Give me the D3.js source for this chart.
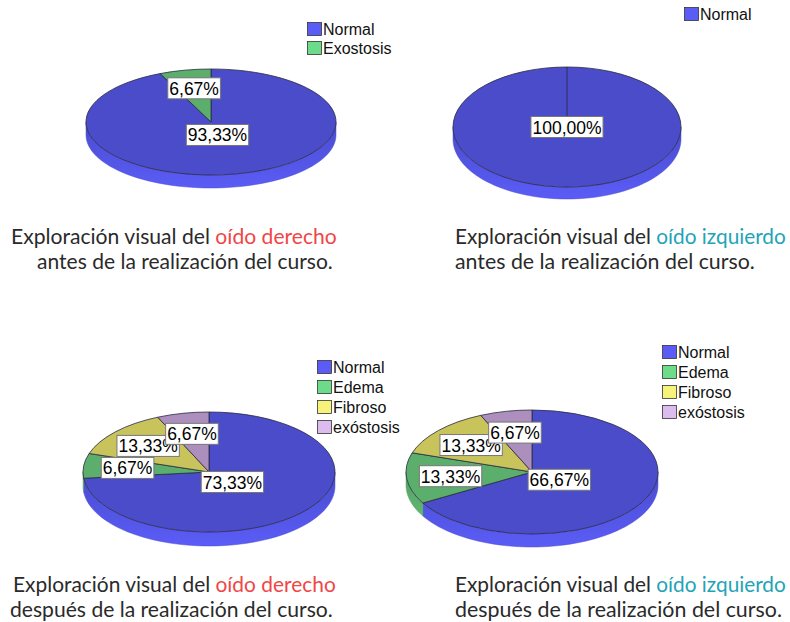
<!DOCTYPE html>
<html><head><meta charset="utf-8">
<script src="https://cdn.jsdelivr.net/npm/d3@7"></script>
<style>body{margin:0;background:#fff}</style>
</head><body><svg id="c" width="790" height="622"></svg>
<script>
// ---- data ----
const categoriesA = ["Normal", "Exostosis"];
const valuesA = [93.33, 6.67];
const categoriesB = ["Normal"];
const valuesB = [100.00];
const categoriesC = ["Normal", "Edema", "Fibroso", "exóstosis"];
const valuesC = [73.33, 6.67, 13.33, 6.67];
const categoriesD = ["Normal", "Edema", "Fibroso", "exóstosis"];
const valuesD = [66.67, 13.33, 13.33, 6.67];
const titlePrefix = "Exploración visual del ";
const titleHighlights = ["oído derecho", "oído izquierdo", "oído derecho", "oído izquierdo"];
const titleSecondLines = ["antes de la realización del curso.", "antes de la realización del curso.",
  "después de la realización del curso.", "después de la realización del curso."];

// ---- styles ----
const palette = {
  "Normal":    {top: "#4a4cc9", sideA: "#4a4cd0", sideB: "#5a5cf6", legend: "#5b5cf6"},
  "Exostosis": {top: "#5cae6c", sideA: "#54a064", sideB: "#5fb670", legend: "#6ddc8a"},
  "Edema":     {top: "#5cae6c", sideA: "#54a064", sideB: "#5fb670", legend: "#6ddc8a"},
  "Fibroso":   {top: "#c9c35c", sideA: "#bcb652", sideB: "#d2cc60", legend: "#f7f27a"},
  "exóstosis": {top: "#ad8fbe", sideA: "#a286b2", sideB: "#b697c6", legend: "#dcbcef"}
};
const highlightColors = ["#f04646", "#22a4b6", "#f04646", "#22a4b6"];

const layouts = [
  {cats: categoriesA, vals: valuesA, cx: 211, cy: 122, rx: 125, ry: 53, depth: 13,
   legend: {x: 307, y: 22, step: 19},
   title: {x1: 11, w1: 326, x2: 37, w2: 296, y1: 244, y2: 269}},
  {cats: categoriesB, vals: valuesB, cx: 567, cy: 127, rx: 114, ry: 60, depth: 12,
   legend: {x: 684, y: 7, step: 19},
   title: {x1: 455, w1: 331, x2: 455, w2: 300, y1: 244, y2: 269}},
  {cats: categoriesC, vals: valuesC, cx: 209, cy: 472, rx: 126, ry: 60, depth: 14,
   legend: {x: 317, y: 360, step: 20},
   title: {x1: 13, w1: 323, x2: 10, w2: 323, y1: 592, y2: 617}},
  {cats: categoriesD, vals: valuesD, cx: 532, cy: 472, rx: 126, ry: 62, depth: 13,
   legend: {x: 662, y: 345, step: 20},
   title: {x1: 455, w1: 331, x2: 455, w2: 327, y1: 592, y2: 617}}
];

const svg = d3.select("#c");
const defs = svg.append("defs");
Object.entries(palette).forEach(([k, p], i) => {
  const g = defs.append("linearGradient").attr("id", "side" + i)
    .attr("x1", 0).attr("y1", 0).attr("x2", 0).attr("y2", 1);
  g.append("stop").attr("offset", "0%").attr("stop-color", p.sideA);
  g.append("stop").attr("offset", "100%").attr("stop-color", p.sideB);
  p.grad = "url(#side" + i + ")";
});

const fmt = v => d3.format(".2f")(v).replace(".", ",") + "%";

layouts.forEach((L, ci) => {
  const g = svg.append("g");
  const pie = d3.pie().sort(null).value(d => d.v);
  const data = pie(L.cats.map((c, i) => ({c, v: L.vals[i]})));
  const px = a => L.cx + L.rx * Math.sin(a);
  const py = a => L.cy - L.ry * Math.cos(a);

  // side walls (visible lower half)
  data.forEach(d => {
    const a0 = Math.max(d.startAngle, Math.PI / 2), a1 = Math.min(d.endAngle, 3 * Math.PI / 2);
    if (a1 <= a0) return;
    const n = 60, pts = d3.range(n + 1).map(i => a0 + (a1 - a0) * i / n);
    const p = d3.path();
    pts.forEach((a, i) => i ? p.lineTo(px(a), py(a)) : p.moveTo(px(a), py(a)));
    pts.slice().reverse().forEach(a => p.lineTo(px(a), py(a) + L.depth));
    p.closePath();
    g.append("path").attr("d", p.toString()).attr("fill", palette[d.data.c].grad)
      .attr("stroke", palette[d.data.c].sideA).attr("stroke-width", 0.5);
  });

  // top faces
  const arc = d3.arc().innerRadius(0).outerRadius(L.rx);
  const top = g.append("g").attr("transform", `translate(${L.cx},${L.cy}) scale(1,${L.ry / L.rx})`);
  top.selectAll("path").data(data).join("path")
    .attr("d", arc)
    .attr("fill", d => palette[d.data.c].top)
    .attr("stroke", "#2a2a40").attr("stroke-width", 0.8)
    .attr("vector-effect", "non-scaling-stroke");
  if (data.length === 1) {
    g.append("line").attr("x1", L.cx).attr("y1", L.cy).attr("x2", px(0)).attr("y2", py(0))
      .attr("stroke", "#2a2a40").attr("stroke-width", 0.8);
  }

  // labels
  data.forEach(d => {
    const mid = (d.startAngle + d.endAngle) / 2;
    const f = data.length === 1 ? 0 : (d.data.v >= 50 ? 0.25 : 0.65);
    const x = L.cx + L.rx * f * Math.sin(mid), y = L.cy - L.ry * f * Math.cos(mid);
    const lg = g.append("g");
    const r = lg.append("rect");
    const t = lg.append("text").attr("x", x).attr("y", y + 6.5)
      .attr("text-anchor", "middle").attr("font-family", "Liberation Sans, Arial, sans-serif")
      .attr("font-size", 17.5).attr("fill", "#000").text(fmt(d.data.v));
    const w = t.node().getComputedTextLength() + 3;
    r.attr("x", x - w / 2).attr("y", y - 10.5).attr("width", w).attr("height", 21)
      .attr("fill", "#fff").attr("stroke", "#777").attr("stroke-width", 1);
  });

  // legend
  L.cats.forEach((c, i) => {
    const y = L.legend.y + i * L.legend.step;
    g.append("rect").attr("x", L.legend.x + 0.5).attr("y", y + 0.5).attr("width", 14).attr("height", 13)
      .attr("fill", palette[c].legend).attr("stroke", "#333").attr("stroke-width", 0.8);
    g.append("text").attr("x", L.legend.x + 16).attr("y", y + 13)
      .attr("font-family", "Liberation Sans, Arial, sans-serif").attr("font-size", 16)
      .attr("fill", "#111").text(c);
  });

  // titles
  const T = L.title;
  const fit = (sel, x, w) => {
    const bw = sel.node().getComputedTextLength();
    sel.attr("transform", `translate(${x},0) scale(${w / bw},1) translate(${-x},0)`);
  };
  const t1 = svg.append("text").attr("x", T.x1).attr("y", T.y1)
    .attr("font-family", "Lato, sans-serif").attr("font-weight", 400).attr("font-size", 21.5).attr("fill", "#2a2a2a");
  t1.append("tspan").text(titlePrefix);
  t1.append("tspan").attr("fill", highlightColors[ci]).text(titleHighlights[ci]);
  fit(t1, T.x1, T.w1);
  const t2 = svg.append("text").attr("x", T.x2).attr("y", T.y2)
    .attr("font-family", "Lato, sans-serif").attr("font-weight", 400).attr("font-size", 21.5).attr("fill", "#2a2a2a")
    .text(titleSecondLines[ci]);
  fit(t2, T.x2, T.w2);
});
</script></body></html>
